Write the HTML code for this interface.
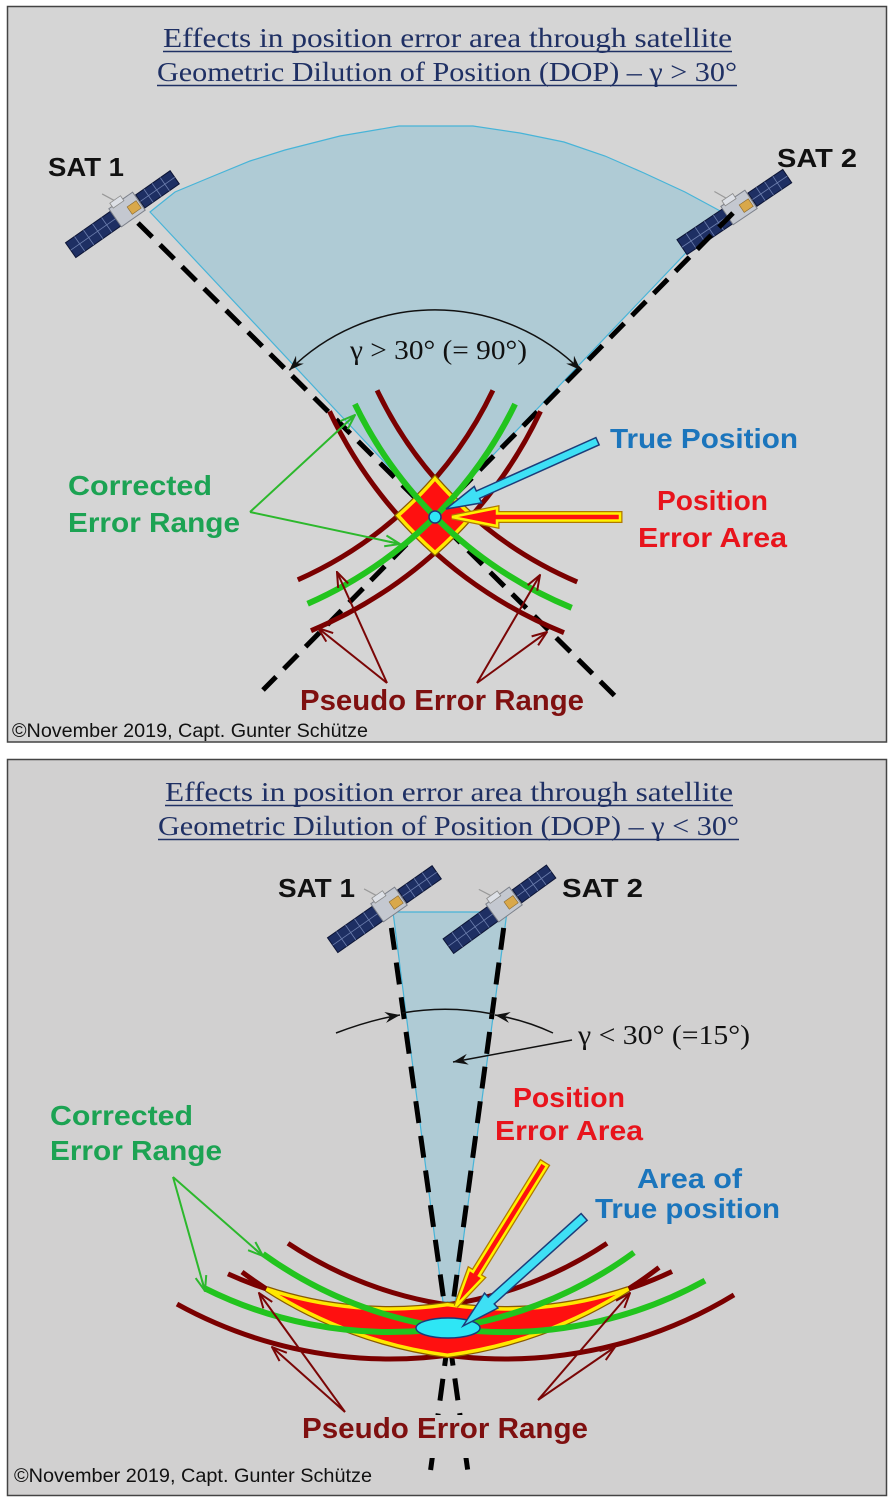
<!DOCTYPE html>
<html><head><meta charset="utf-8"><style>
html,body{margin:0;padding:0;background:#fff;}
svg{display:block;}
.t{font-family:"Liberation Serif",serif;fill:#1f3064;font-size:27px;}
.b{font-family:"Liberation Sans",sans-serif;font-weight:bold;}
.c{font-family:"Liberation Sans",sans-serif;font-size:19px;fill:#111;}
</style></head><body>
<svg width="892" height="1500" viewBox="0 0 892 1500" xmlns="http://www.w3.org/2000/svg">
<defs>
<marker id="gh" markerWidth="18" markerHeight="16" viewBox="-17 -8 18 16" refX="0" refY="0" orient="auto" markerUnits="userSpaceOnUse">
<path d="M-15,-5.5 L0,0 L-15,5.5 M-11,0 L0,0" fill="none" stroke="#2cb82c" stroke-width="2"/></marker>
<marker id="bh" markerWidth="18" markerHeight="16" viewBox="-17 -8 18 16" refX="0" refY="0" orient="auto" markerUnits="userSpaceOnUse">
<path d="M-15,-5.5 L0,0 L-15,5.5" fill="none" stroke="#7a0606" stroke-width="2"/></marker>
<marker id="kh" markerWidth="18" markerHeight="16" viewBox="-17 -8 18 16" refX="0" refY="0" orient="auto-start-reverse" markerUnits="userSpaceOnUse">
<path d="M0,0 L-15,-5.5 L-10,0 L-15,5.5 Z" fill="#111"/></marker>
<g id="sat">
<line x1="-16" y1="0" x2="16" y2="0" stroke="#9aa0aa" stroke-width="3"/>
<rect x="-70" y="-9" width="55" height="18" fill="#1e2f63" stroke="#0d1535" stroke-width="1"/>
<path d="M-59,-9v18M-48,-9v18M-37,-9v18M-26,-9v18M-70,0h55" stroke="#6d7fae" stroke-width="0.8" fill="none"/>
<rect x="15" y="-8" width="42" height="16" fill="#1e2f63" stroke="#0d1535" stroke-width="1"/>
<path d="M25,-8v16M35,-8v16M45,-8v16M15,0h42" stroke="#6d7fae" stroke-width="0.8" fill="none"/>
<rect x="-15" y="-12" width="29" height="22" fill="#c4c8d0" stroke="#7c808a" stroke-width="1"/>
<rect x="-11" y="-16" width="13" height="6" fill="#dde0e6" stroke="#888" stroke-width="0.8"/>
<rect x="1" y="-3" width="11" height="9" fill="#d9a84a" stroke="#8a6a30" stroke-width="0.6"/>
<line x1="-6" y1="-16" x2="-12" y2="-28" stroke="#999" stroke-width="1.2"/>
</g>
</defs>

<!-- ================= TOP PANEL ================= -->
<rect x="7.5" y="6.5" width="879" height="735.5" fill="#d5d5d5" stroke="#444" stroke-width="1.5"/>

<text class="t" x="163" y="47" textLength="569" lengthAdjust="spacingAndGlyphs">Effects in position error area through satellite</text>
<line x1="163" y1="51.5" x2="732" y2="51.5" stroke="#1f3064" stroke-width="1.5"/>
<text class="t" x="157" y="81" textLength="580" lengthAdjust="spacingAndGlyphs">Geometric Dilution of Position (DOP) – γ &gt; 30°</text>
<line x1="157" y1="85.5" x2="737" y2="85.5" stroke="#1f3064" stroke-width="1.5"/>

<!-- fan -->
<polygon points="435,516 150,212 175,192 211,177 250,161 285,150 340,136 399,126 473,126 520,133 564,142 605,156 644,173 685,192 724,213" fill="#afcbd5" stroke="#47b4d8" stroke-width="1.2"/>

<use href="#sat" transform="translate(128,210) rotate(-35)"/>
<use href="#sat" transform="translate(740,208) rotate(-34)"/>

<!-- dashed lines -->
<line x1="138" y1="223" x2="617" y2="698" stroke="#000" stroke-width="5" stroke-dasharray="20 11"/>
<line x1="733" y1="213" x2="263" y2="690" stroke="#000" stroke-width="5" stroke-dasharray="20 11"/>

<!-- angle arc -->
<path d="M289.3,370.3 A206,206 0 0 1 580.7,370.3" fill="none" stroke="#111" stroke-width="1.5" marker-start="url(#kh)" marker-end="url(#kh)"/>
<text x="350" y="359" font-family="Liberation Serif,serif" font-size="27" fill="#111" textLength="177" lengthAdjust="spacingAndGlyphs">γ &gt; 30° (= 90°)</text>

<!-- brown curves -->
<g fill="none" stroke="#7a0000" stroke-width="5">
<path d="M492.9,390.3 A391,391 0 0 1 297.8,579.8"/>
<path d="M377.1,390.3 A391,391 0 0 0 577.2,581.9"/>
<path d="M540.5,411.3 A443,443 0 0 1 311,630.7"/>
<path d="M329.5,411.3 A443,443 0 0 0 564,632.7"/>
</g>
<!-- diamond -->
<path d="M435,478.6 A391,391 0 0 0 471.8,515.6 A443,443 0 0 1 435,552.5 A443,443 0 0 1 398.2,515.6 A391,391 0 0 0 435,478.6 Z" fill="#ff1010" stroke="#8a5a00" stroke-width="6"/>
<path d="M435,478.6 A391,391 0 0 0 471.8,515.6 A443,443 0 0 1 435,552.5 A443,443 0 0 1 398.2,515.6 A391,391 0 0 0 435,478.6 Z" fill="#ff1010" stroke="#ffe800" stroke-width="3.5"/>
<!-- green curves -->
<g fill="none" stroke="#22c41e" stroke-width="6">
<path d="M515.1,404.1 A417,417 0 0 1 307.6,603.8"/>
<path d="M354.9,404.1 A417,417 0 0 0 571.7,607.8"/>
</g>
<circle cx="435" cy="517" r="6" fill="#2ee6f5" stroke="#1a3a7a" stroke-width="1.5"/>

<!-- cyan arrow -->
<polygon points="0,0 -35,-9 -35,-4 -166,-4 -166,4 -35,4 -35,9" transform="translate(446,509) rotate(155.9)" fill="#3ee0f5" stroke="#1c3d7a" stroke-width="1.5" stroke-linejoin="miter"/>
<!-- yellow/red arrow -->
<polygon points="0,0 -45,-9 -45,-3.5 -168,-3.5 -168,3.5 -45,3.5 -45,9" transform="translate(452,517) rotate(180)" fill="#ff1010" stroke="#b07800" stroke-width="5"/>
<polygon points="0,0 -45,-9 -45,-3.5 -168,-3.5 -168,3.5 -45,3.5 -45,9" transform="translate(452,517) rotate(180)" fill="#ff1010" stroke="#fff200" stroke-width="2.5"/>

<!-- green label arrows -->
<g fill="none" stroke="#2cb82c" stroke-width="2">
<line x1="250" y1="512" x2="355" y2="415" marker-end="url(#gh)"/>
<line x1="250" y1="512" x2="400" y2="544" marker-end="url(#gh)"/>
</g>
<!-- brown label arrows -->
<g fill="none" stroke="#7a0606" stroke-width="2">
<line x1="387" y1="683" x2="337" y2="572" marker-end="url(#bh)"/>
<line x1="387" y1="683" x2="318" y2="628" marker-end="url(#bh)"/>
<line x1="477" y1="683" x2="540" y2="575" marker-end="url(#bh)"/>
<line x1="477" y1="683" x2="547" y2="632" marker-end="url(#bh)"/>
</g>

<text class="b" x="48" y="176" font-size="26" fill="#111" textLength="76" lengthAdjust="spacingAndGlyphs">SAT 1</text>
<text class="b" x="777" y="167" font-size="26" fill="#111" textLength="80" lengthAdjust="spacingAndGlyphs">SAT 2</text>
<text class="b" x="610" y="448" font-size="28" fill="#1b75bc" textLength="188" lengthAdjust="spacingAndGlyphs">True Position</text>
<text class="b" x="657" y="510" font-size="28" fill="#e8141c" textLength="111" lengthAdjust="spacingAndGlyphs">Position</text>
<text class="b" x="638" y="547" font-size="28" fill="#e8141c" textLength="149" lengthAdjust="spacingAndGlyphs">Error Area</text>
<text class="b" x="68" y="495" font-size="28" fill="#1ca353" textLength="144" lengthAdjust="spacingAndGlyphs">Corrected</text>
<text class="b" x="68" y="532" font-size="28" fill="#1ca353" textLength="172" lengthAdjust="spacingAndGlyphs">Error Range</text>
<text class="b" x="300" y="710" font-size="29" fill="#7f1010" textLength="284" lengthAdjust="spacingAndGlyphs">Pseudo Error Range</text>
<text class="c" x="12" y="737" textLength="356" lengthAdjust="spacingAndGlyphs">©November 2019, Capt. Gunter Schütze</text>

<!-- ================= BOTTOM PANEL ================= -->
<rect x="7.5" y="759.5" width="879" height="736" fill="#d1d0d0" stroke="#444" stroke-width="1.5"/>

<text class="t" x="165" y="801" textLength="568" lengthAdjust="spacingAndGlyphs">Effects in position error area through satellite</text>
<line x1="165" y1="805.5" x2="733" y2="805.5" stroke="#1f3064" stroke-width="1.5"/>
<text class="t" x="158" y="835" textLength="581" lengthAdjust="spacingAndGlyphs">Geometric Dilution of Position (DOP) – γ &lt; 30°</text>
<line x1="158" y1="839.5" x2="739" y2="839.5" stroke="#1f3064" stroke-width="1.5"/>

<!-- fan -->
<polygon points="393,912 507,912 455,1302 443,1302" fill="#afcbd5" stroke="#47b4d8" stroke-width="1.2"/>

<use href="#sat" transform="translate(390,905) rotate(-35)"/>
<use href="#sat" transform="translate(505,905) rotate(-36)"/>

<!-- dashed -->
<line x1="390" y1="918" x2="467.7" y2="1470" stroke="#000" stroke-width="5" stroke-dasharray="22 13" stroke-dashoffset="25"/>
<line x1="505" y1="918" x2="430.6" y2="1470" stroke="#000" stroke-width="5" stroke-dasharray="22 13" stroke-dashoffset="25"/>

<!-- angle -->
<path d="M402,1013 Q448,1005 493,1014" fill="none" stroke="#111" stroke-width="1.5"/>
<path d="M336,1033 Q370,1020 400,1015" fill="none" stroke="#111" stroke-width="1.5" marker-end="url(#kh)"/>
<path d="M553,1033 Q525,1020 495,1015" fill="none" stroke="#111" stroke-width="1.5" marker-end="url(#kh)"/>
<line x1="572" y1="1040" x2="453" y2="1062" stroke="#111" stroke-width="1.5" marker-end="url(#kh)"/>
<text x="578" y="1044" font-family="Liberation Serif,serif" font-size="27" fill="#111" textLength="172" lengthAdjust="spacingAndGlyphs">γ &lt; 30° (=15°)</text>

<!-- brown curves -->
<g fill="none" stroke="#7a0000" stroke-width="5">
<path d="M228,1273.9 A391,391 0 0 0 607,1243.3"/>
<path d="M288,1243.3 A391,391 0 0 0 672,1271.5"/>
<path d="M177,1304.1 A441,441 0 0 0 659,1267.5"/>
<path d="M242,1272 A441,441 0 0 0 734,1294.9"/>
</g>
<!-- red area -->
<path d="M266.6,1289 A391,391 0 0 0 447.5,1304.7 A391,391 0 0 0 628.4,1289 A441,441 0 0 1 447.5,1355.2 A441,441 0 0 1 266.6,1289 Z" fill="#ff1010" stroke="#8a5a00" stroke-width="6"/>
<path d="M266.6,1289 A391,391 0 0 0 447.5,1304.7 A391,391 0 0 0 628.4,1289 A441,441 0 0 1 447.5,1355.2 A441,441 0 0 1 266.6,1289 Z" fill="#ff1010" stroke="#ffe800" stroke-width="3.5"/>
<!-- green curves -->
<g fill="none" stroke="#22c41e" stroke-width="6">
<path d="M205,1288.4 A414,414 0 0 0 634,1252.5"/>
<path d="M263,1253.9 A414,414 0 0 0 705,1280.6"/>
</g>
<ellipse cx="448" cy="1328" rx="32" ry="10" fill="#2ee6f5" stroke="#1a3a7a" stroke-width="1.5"/>

<!-- yellow/red arrow -->
<polygon points="0,0 -38,-8 -38,-3.5 -167,-3.5 -167,3.5 -38,3.5 -38,8" transform="translate(456,1306) rotate(121.8)" fill="#ff1010" stroke="#b07800" stroke-width="5"/>
<polygon points="0,0 -38,-8 -38,-3.5 -167,-3.5 -167,3.5 -38,3.5 -38,8" transform="translate(456,1306) rotate(121.8)" fill="#ff1010" stroke="#fff200" stroke-width="2.5"/>
<!-- cyan arrow -->
<polygon points="0,0 -38,-10 -38,-4.5 -163,-4.5 -163,4.5 -38,4.5 -38,10" transform="translate(463,1326) rotate(138)" fill="#3ee0f5" stroke="#1c3d7a" stroke-width="1.5"/>

<!-- green label arrows -->
<g fill="none" stroke="#2cb82c" stroke-width="2">
<line x1="173" y1="1177" x2="263" y2="1256" marker-end="url(#gh)"/>
<line x1="173" y1="1177" x2="205" y2="1291" marker-end="url(#gh)"/>
</g>

<rect x="298" y="1415" width="294" height="43" fill="#d1d0d0"/>

<!-- brown label arrows -->
<g fill="none" stroke="#7a0606" stroke-width="2">
<line x1="345" y1="1412" x2="259" y2="1293" marker-end="url(#bh)"/>
<line x1="345" y1="1412" x2="272" y2="1347" marker-end="url(#bh)"/>
<line x1="538" y1="1400" x2="630" y2="1293" marker-end="url(#bh)"/>
<line x1="538" y1="1400" x2="615" y2="1347" marker-end="url(#bh)"/>
</g>

<text class="b" x="278" y="897" font-size="26" fill="#111" textLength="77" lengthAdjust="spacingAndGlyphs">SAT 1</text>
<text class="b" x="562" y="897" font-size="26" fill="#111" textLength="81" lengthAdjust="spacingAndGlyphs">SAT 2</text>
<text class="b" x="513" y="1107" font-size="28" fill="#e8141c" textLength="112" lengthAdjust="spacingAndGlyphs">Position</text>
<text class="b" x="495" y="1140" font-size="28" fill="#e8141c" textLength="148" lengthAdjust="spacingAndGlyphs">Error Area</text>
<text class="b" x="637" y="1188" font-size="28" fill="#1b75bc" textLength="105" lengthAdjust="spacingAndGlyphs">Area of</text>
<text class="b" x="595" y="1218" font-size="28" fill="#1b75bc" textLength="185" lengthAdjust="spacingAndGlyphs">True position</text>
<text class="b" x="50" y="1125" font-size="28" fill="#1ca353" textLength="143" lengthAdjust="spacingAndGlyphs">Corrected</text>
<text class="b" x="50" y="1160" font-size="28" fill="#1ca353" textLength="172" lengthAdjust="spacingAndGlyphs">Error Range</text>
<text class="b" x="302" y="1438" font-size="29" fill="#7f1010" textLength="286" lengthAdjust="spacingAndGlyphs">Pseudo Error Range</text>
<text class="c" x="14" y="1482" textLength="358" lengthAdjust="spacingAndGlyphs">©November 2019, Capt. Gunter Schütze</text>
</svg>
</body></html>
